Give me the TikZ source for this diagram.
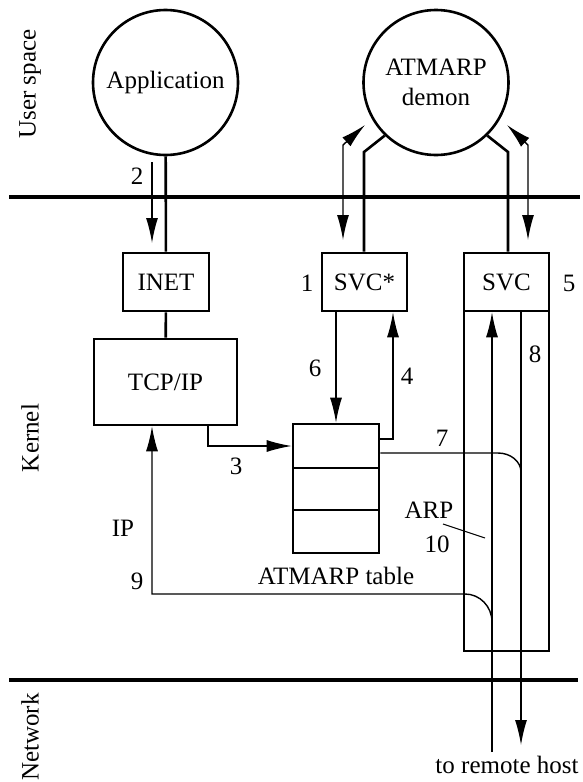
\documentclass[tikz,border=0pt]{standalone}
\usepackage{fontspec}
\setmainfont{Liberation Serif}
\usetikzlibrary{arrows.meta}
\begin{document}
\begin{tikzpicture}[x=1pt,y=-1pt,
  every node/.style={font=\fontsize{25}{30}\selectfont},
  thk/.style={line width=2.6pt},
  thn/.style={line width=1.4pt},
  sep/.style={line width=3.2pt},
  arr/.style={thn,-{Latex[length=25pt,width=12pt]}},
  darr/.style={thn,{Latex[length=25pt,width=12pt]}-{Latex[length=25pt,width=12pt]}},
  proc/.style={circle,draw,thk,minimum size=145pt,inner sep=0pt,align=center},
  boxnode/.style={draw,thk,inner sep=0pt},
  lbl/.style={inner sep=0pt}]
\useasboundingbox (0,0) rectangle (582,782);
% separators
\coordinate (s1l) at (9,197); \coordinate (s1r) at (580,197);
\coordinate (s2l) at (9,680); \coordinate (s2r) at (578,680);
\draw[sep] (s1l) -- (s1r);
\draw[sep] (s2l) -- (s2r);
% side labels
\node[lbl,rotate=90] (us) at (30,84) {User space};
\node[lbl,rotate=90] (kn) at (30,438) {Kernel};
\node[lbl,rotate=90] (nw) at (30,737) {Network};
% processes
\node[proc] (app) at (165.5,82.5) {Application};
\node[proc,font=\fontsize{25}{30}\selectfont] (arpd) at (436,82.5) {ATMARP\\demon};
% boxes
\node[boxnode,minimum width=86pt,minimum height=58pt] (inet) at (166,282) {INET};
\node[boxnode,minimum width=143pt,minimum height=86pt] (tcp) at (165.5,382) {TCP/IP};
\node[boxnode,minimum width=85pt,minimum height=58pt] (svcs) at (364.5,282) {SVC*};
\node[boxnode,minimum width=85pt,minimum height=58pt] (svc) at (506.5,282) {SVC};
\node[boxnode,minimum width=85pt,minimum height=340pt] (tall) at (506.5,481) {};
% ATMARP table
\node[boxnode,minimum width=86pt,minimum height=44pt] (t1) at (336,446) {};
\node[boxnode,minimum width=86pt,minimum height=42pt] (t2) at (336,489) {};
\node[boxnode,minimum width=86pt,minimum height=43pt] (t3) at (336,531.5) {};
\node[lbl] (tlab) at (336,576) {ATMARP table};
% thick links
\draw[thk] (app) -- (inet);
\draw[thk] (inet) -- (tcp);
\coordinate (lk1) at (364,152);
\coordinate (lk2) at (508,152);
\draw[thk] (svcs.north -| lk1) -- (lk1) -- (arpd.-134);
\draw[thk] (svc.north -| lk2) -- (lk2) -- (arpd.-46);
% double arrows to demon
\coordinate (da1t) at (365,125); \coordinate (da1m) at (343,145); \coordinate (da1b) at (343,240);
\coordinate (da2t) at (507,125); \coordinate (da2m) at (528,145); \coordinate (da2b) at (528,240);
\draw[darr] (da1t) -- (da1m) -- (da1b);
\draw[darr] (da2t) -- (da2m) -- (da2b);
% arrow 2
\coordinate (a2s) at (152,162); \coordinate (a2e) at (152,243);
\draw[arr] (a2s) -- (a2e);
\node[lbl] (l2) at (137,176) {2};
% arrow 3
\coordinate (a3c) at (208,446);
\draw[arr] (tcp.south -| a3c) -- (a3c) -- (t1.west |- a3c);
\node[lbl] (l3) at (236,466) {3};
% arrow 6
\coordinate (a6) at (336,311);
\draw[arr] (svcs.south -| a6) -- (t1.north);
\node[lbl] (l6) at (315,368) {6};
% arrow 4
\coordinate (a4) at (393,439);
\draw[arr] (t1.east |- a4) -- (a4) -- (svcs.south -| a4);
\node[lbl] (l4) at (407,376) {4};
% line 7 and 8
\coordinate (a7a) at (498,453); \coordinate (a7b) at (521,472); \coordinate (a8e) at (521,745);
\draw[thn] (t1.east |- a7a) -- (a7a) .. controls (510.7,453) and (521,461.5) .. (a7b);
\draw[arr] (svc.south -| a8e) -- (a8e);
\node[lbl] (l7) at (442,438) {7};
\node[lbl] (l8) at (535,354) {8};
% incoming line and 9
\coordinate (inb) at (492,752); \coordinate (inc) at (492,622); \coordinate (i9a) at (465,594); \coordinate (i9b) at (152,594);
\draw[arr] (inb) -- (svc.south -| inb);
\draw[arr] (inc) .. controls (492,606.5) and (479.9,594) .. (i9a) -- (i9b) -- (tcp.south -| i9b);
\node[lbl] (lip) at (123,528) {IP};
\node[lbl] (l9) at (137,581) {9};
% ARP 10
\node[lbl] (larp) at (429,510) {ARP};
\node[lbl] (l10) at (437,544) {10};
\coordinate (p1) at (443,524); \coordinate (p2) at (485,538);
\draw[line width=1pt] (p1) -- (p2);
% other labels
\node[lbl] (l1) at (307,283) {1};
\node[lbl] (l5) at (569,283) {5};
\node[lbl] (rh) at (507,765) {to remote host};
\end{tikzpicture}
\end{document}
